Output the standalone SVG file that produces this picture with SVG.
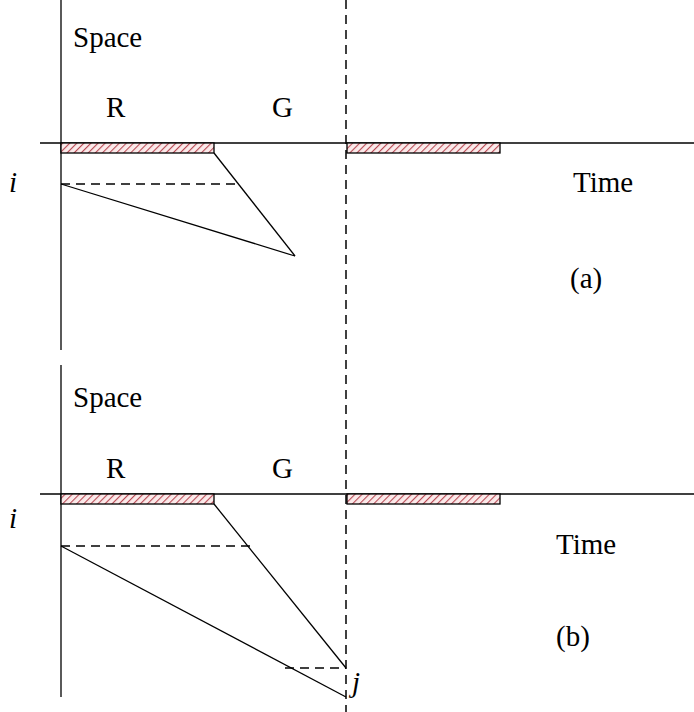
<svg xmlns="http://www.w3.org/2000/svg" width="694" height="712" viewBox="0 0 694 712">
<defs>
<pattern id="hatch" patternUnits="userSpaceOnUse" width="5" height="5" patternTransform="rotate(45)">
<rect width="5" height="5" fill="#fbeaea"/>
<line x1="0" y1="0" x2="0" y2="5" stroke="#b84a55" stroke-width="2.2"/>
</pattern>
</defs>
<style>
.t{font-family:"Liberation Serif","Times New Roman",serif;font-size:29px;fill:#000}
.it{font-style:italic}
.ln{stroke:#000;stroke-width:1.3;fill:none}
.ds{stroke:#000;stroke-width:1.5;fill:none;stroke-dasharray:9,6}
.bar{fill:url(#hatch);stroke:#000;stroke-width:1.3}
</style>
<rect width="694" height="712" fill="#fff"/>
<g id="connectors">
<line class="ds" x1="346" y1="0" x2="346" y2="712"/>
</g>
<g id="panel-a">
<line class="ln" x1="61" y1="0" x2="61" y2="350"/>
<line class="ln" x1="40" y1="143" x2="694" y2="143"/>
<rect class="bar" x="61" y="143" width="153" height="10"/>
<rect class="bar" x="347" y="143" width="153" height="10"/>
<line class="ds" x1="61" y1="184" x2="240" y2="184"/>
<line class="ln" x1="61" y1="184" x2="295" y2="256"/>
<line class="ln" x1="214" y1="153" x2="295" y2="256"/>
<text class="t" x="73" y="47">Space</text>
<text class="t" x="106" y="117">R</text>
<text class="t" x="272" y="117">G</text>
<text class="t it" x="9" y="192">i</text>
<text class="t" x="573" y="192">Time</text>
<text class="t" x="570" y="288">(a)</text>
</g>
<g id="panel-b">
<line class="ln" x1="61" y1="365" x2="61" y2="697"/>
<line class="ln" x1="40" y1="494" x2="694" y2="494"/>
<rect class="bar" x="61" y="494" width="153" height="10"/>
<rect class="bar" x="347" y="494" width="153" height="10"/>
<line class="ds" x1="61" y1="546" x2="252" y2="546"/>
<line class="ln" x1="61" y1="546" x2="346" y2="697"/>
<line class="ln" x1="214" y1="504" x2="346" y2="668"/>
<line class="ds" x1="285" y1="668" x2="346" y2="668"/>
<text class="t" x="73" y="407">Space</text>
<text class="t" x="106" y="478">R</text>
<text class="t" x="272" y="478">G</text>
<text class="t it" x="9" y="528">i</text>
<text class="t" x="556" y="554">Time</text>
<text class="t" x="556" y="646">(b)</text>
<text class="t it" x="352" y="692">j</text>
</g>
</svg>
